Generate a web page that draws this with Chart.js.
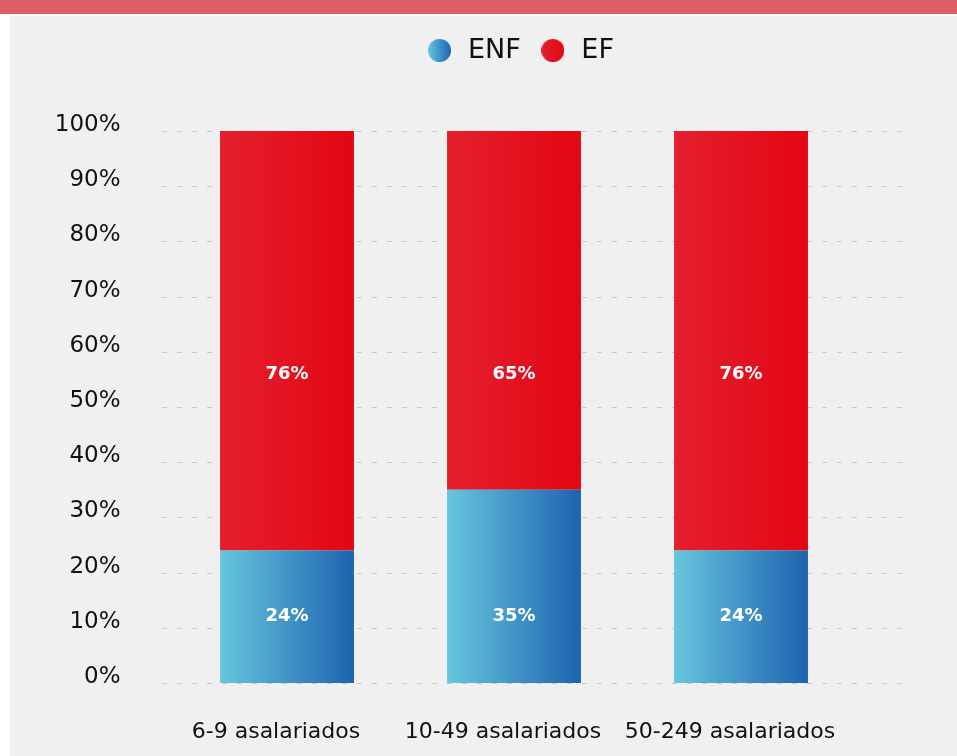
<!DOCTYPE html>
<html>
<head>
<meta charset="utf-8">
<script src="https://cdn.jsdelivr.net/npm/chart.js@4.4.1/dist/chart.umd.min.js"></script>
<style>
  html, body { margin: 0; padding: 0; background: #fff; }
  body { width: 957px; height: 756px; position: relative; overflow: hidden; }
  #banner { position: absolute; left: 0; top: 0; width: 957px; height: 14px; background: #dc5f66; }
  #panel { position: absolute; left: 10px; top: 16px; width: 947px; height: 740px; background: #f0f0f0; }
</style>
</head>
<body>
<div id="banner"></div>
<div id="panel"><canvas id="chart"></canvas></div>
<script>
// Data
const categories = ['6-9 asalariados', '10-49 asalariados', '50-249 asalariados'];
const seriesNames = ['ENF', 'EF'];
const enfValues = [24, 35, 24];
const efValues = [76, 65, 76];
const yTicks = [0, 10, 20, 30, 40, 50, 60, 70, 80, 90, 100];

const FONT = '"DejaVu Sans", sans-serif';
const BAR_FRAC = 0.59;
// value labels sit at a fixed height per series in the original
const labelAt = [12, 56];

const blueStops = ['#66c6dd', '#1d63af'];
const redStops = ['#e4202e', '#e30613'];

function barGradient(stops) {
  return (ctx) => {
    const chart = ctx.chart;
    const xs = chart.scales.x;
    if (!xs || !chart.chartArea) return stops[1];
    const cx = xs.getPixelForValue(ctx.dataIndex);
    const half = (xs.width / categories.length) * BAR_FRAC / 2;
    const g = chart.ctx.createLinearGradient(cx - half, 0, cx + half, 0);
    g.addColorStop(0, stops[0]);
    g.addColorStop(1, stops[1]);
    return g;
  };
}

function legendDot(stops) {
  const c = document.createElement('canvas');
  c.width = 23; c.height = 23;
  const x = c.getContext('2d');
  const g = x.createLinearGradient(0, 0, 23, 0);
  g.addColorStop(0, stops[0]);
  g.addColorStop(1, stops[1]);
  x.fillStyle = g;
  x.beginPath();
  x.arc(11.5, 11.5, 11.5, 0, Math.PI * 2);
  x.fill();
  return c;
}
const dots = [legendDot(blueStops), legendDot(redStops)];

// legend block takes the whole space above the plot, and sits a bit right of centre
const legendSpace = {
  id: 'legendSpace',
  beforeInit(chart) {
    const lg = chart.legend;
    if (!lg) return;
    const fit = lg.fit;
    lg.fit = function () { fit.call(this); this.height = 115; };
    const draw = lg.draw;
    lg.draw = function () {
      this.ctx.save();
      this.ctx.translate(87, 4);
      draw.call(this);
      this.ctx.restore();
    };
  }
};

// dashed gridlines that run a bit wider than the category band
const gridPlugin = {
  id: 'wideGrid',
  beforeDatasetsDraw(chart) {
    const { ctx, scales: { y } } = chart;
    ctx.save();
    ctx.strokeStyle = '#c8c8c8';
    ctx.lineWidth = 1;
    ctx.setLineDash([5, 10]);
    yTicks.forEach(v => {
      const py = Math.round(y.getPixelForValue(v)) + 0.5;
      ctx.beginPath();
      ctx.moveTo(152, py);
      ctx.lineTo(895, py);
      ctx.stroke();
    });
    ctx.restore();
  }
};

// white value labels inside each segment
const labelPlugin = {
  id: 'segLabels',
  afterDatasetsDraw(chart) {
    const { ctx, scales: { y } } = chart;
    ctx.save();
    ctx.fillStyle = '#ffffff';
    ctx.font = 'bold 18px ' + FONT;
    ctx.textAlign = 'center';
    ctx.textBaseline = 'middle';
    chart.data.datasets.forEach((ds, i) => {
      chart.getDatasetMeta(i).data.forEach((bar, j) => {
        ctx.fillText(ds.data[j] + '%', bar.x, y.getPixelForValue(labelAt[i]));
      });
    });
    ctx.restore();
  }
};

new Chart(document.getElementById('chart'), {
  type: 'bar',
  data: {
    labels: categories,
    datasets: [
      { label: seriesNames[0], data: enfValues, backgroundColor: barGradient(blueStops), pointStyle: dots[0] },
      { label: seriesNames[1], data: efValues, backgroundColor: barGradient(redStops), pointStyle: dots[1] }
    ]
  },
  options: {
    responsive: true, maintainAspectRatio: false, animation: false,
    barPercentage: BAR_FRAC, categoryPercentage: 1,
    layout: { padding: { top: 0, right: 102.5, left: 0, bottom: 0 } },
    plugins: {
      tooltip: { enabled: false },
      legend: {
        position: 'top',
        labels: {
          usePointStyle: true, pointStyleWidth: 30, color: '#111', padding: 17,
          font: { family: FONT, size: 27 }
        }
      }
    },
    scales: {
      x: {
        stacked: true,
        grid: { display: false }, border: { display: false },
        ticks: { color: '#111', font: { family: FONT, size: 22 }, padding: 28, labelOffset: -11 },
        afterFit: (s) => { s.height = 73; }
      },
      y: {
        stacked: true, min: 0, max: 100,
        grid: { display: false, drawTicks: false }, border: { display: false },
        afterBuildTicks: (s) => { s.ticks = yTicks.map(v => ({ value: v })); },
        ticks: { color: '#111', font: { family: FONT, size: 23 }, padding: 53, labelOffset: -6, callback: (v) => v + '%' },
        afterFit: (s) => { s.width = 163.5; }
      }
    }
  },
  plugins: [legendSpace, gridPlugin, labelPlugin]
});
</script>
</body>
</html>
